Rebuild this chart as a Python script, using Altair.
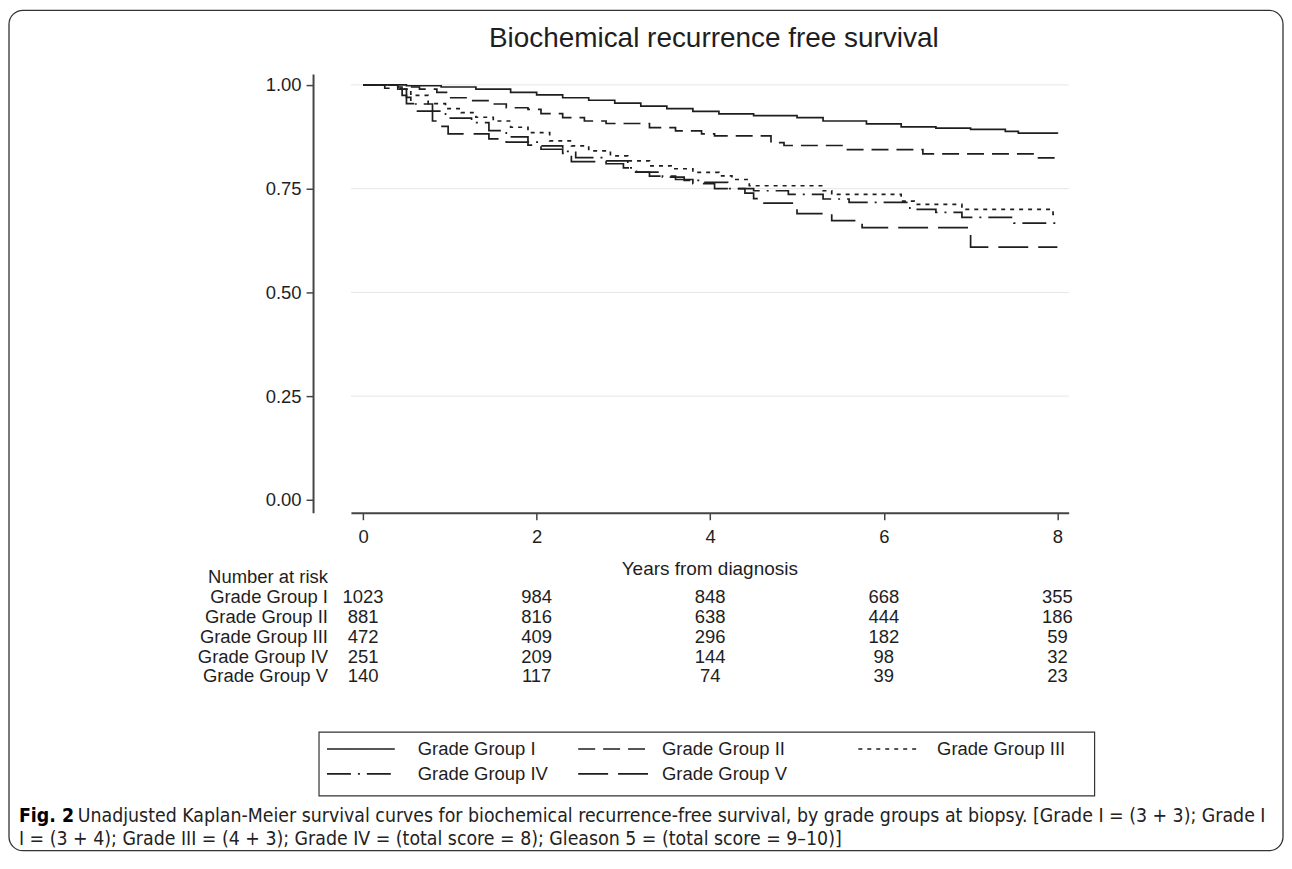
import altair as alt
import pandas as pd

# ---------------- data ----------------
groups = ["Grade Group I", "Grade Group II", "Grade Group III", "Grade Group IV", "Grade Group V"]

t_I = [0, 0.5, 0.9, 1.3, 1.7, 2.0, 2.3, 2.6, 2.9, 3.2, 3.5, 3.8, 4.1, 4.5, 5.0, 5.3, 5.8, 6.2, 6.6, 7.0, 7.4, 7.55, 8.0]
s_I = [1.0, 0.998, 0.995, 0.99, 0.982, 0.976, 0.969, 0.963, 0.956, 0.949, 0.943, 0.936, 0.930, 0.926, 0.921, 0.913, 0.906, 0.899, 0.896, 0.893, 0.888, 0.884, 0.882]

t_II = [0, 0.4, 0.65, 0.85, 1.0, 1.2, 1.45, 1.65, 1.9, 2.05, 2.3, 2.55, 2.8, 3.3, 3.6, 3.9, 4.05, 4.7, 4.85, 5.55, 6.45, 7.75, 7.98, 8.0]
s_II = [1.0, 0.995, 0.99, 0.982, 0.969, 0.962, 0.954, 0.945, 0.941, 0.931, 0.921, 0.913, 0.907, 0.897, 0.889, 0.882, 0.877, 0.861, 0.854, 0.844, 0.834, 0.824, 0.818, 0.818]

t_III = [0, 0.4, 0.55, 0.75, 0.95, 1.13, 1.3, 1.5, 1.7, 1.9, 2.15, 2.4, 2.6, 2.85, 3.05, 3.3, 3.55, 3.8, 4.1, 4.25, 4.45, 5.3, 5.4, 6.2, 6.35, 6.9, 7.95, 8.0]
s_III = [1.0, 0.99, 0.975, 0.955, 0.943, 0.933, 0.922, 0.913, 0.898, 0.885, 0.865, 0.853, 0.841, 0.829, 0.817, 0.805, 0.798, 0.789, 0.781, 0.772, 0.757, 0.745, 0.736, 0.72, 0.712, 0.70, 0.688, 0.688]

t_IV = [0, 0.4, 0.5, 0.55, 0.8, 0.95, 1.25, 1.45, 1.65, 1.9, 2.05, 2.3, 2.45, 2.8, 3.05, 3.15, 3.45, 3.7, 3.9, 4.2, 4.5, 4.9, 5.3, 5.6, 6.3, 6.6, 6.9, 7.5, 8.0]
s_IV = [1.0, 0.99, 0.97, 0.954, 0.937, 0.92, 0.909, 0.89, 0.875, 0.862, 0.853, 0.84, 0.825, 0.817, 0.80, 0.79, 0.778, 0.77, 0.765, 0.75, 0.745, 0.736, 0.725, 0.717, 0.70, 0.693, 0.681, 0.667, 0.667]

t_V = [0, 0.25, 0.45, 0.5, 0.6, 0.8, 0.9, 0.98, 1.45, 1.65, 1.9, 2.05, 2.3, 2.4, 2.8, 3.0, 3.1, 3.3, 3.6, 3.8, 4.05, 4.4, 4.5, 4.6, 5.0, 5.4, 5.75, 7.0, 8.0]
s_V = [1.0, 0.992, 0.975, 0.955, 0.937, 0.913, 0.9, 0.882, 0.87, 0.862, 0.855, 0.845, 0.835, 0.815, 0.81, 0.80, 0.79, 0.78, 0.772, 0.762, 0.75, 0.739, 0.726, 0.715, 0.69, 0.673, 0.656, 0.609, 0.609]

risk_times = [0, 2, 4, 6, 8]
risk_I = [1023, 984, 848, 668, 355]
risk_II = [881, 816, 638, 444, 186]
risk_III = [472, 409, 296, 182, 59]
risk_IV = [251, 209, 144, 98, 32]
risk_V = [140, 117, 74, 39, 23]

x_ticks = [0, 2, 4, 6, 8]
y_ticks = [0.0, 0.25, 0.5, 0.75, 1.0]
grid_vals = [0.25, 0.5, 0.75, 1.0]

title_text = "Biochemical recurrence free survival"
x_title = "Years from diagnosis"
risk_title = "Number at risk"
caption_bold = "Fig. 2"
caption_1 = ("Unadjusted Kaplan-Meier survival curves for biochemical recurrence-free survival, "
             "by grade groups at biopsy. [Grade I = (3 + 3); Grade I")
caption_2 = "I = (3 + 4); Grade III = (4 + 3); Grade IV = (total score = 8); Gleason 5 = (total score = 9\u201310)]"

# ---------------- styling / layout ----------------
OX, OY = 352, 73          # page position of plot origin


def px(v):
    return v - OX


def py(v):
    return v - OY


FONT = "Liberation Sans, Arial, Helvetica, sans-serif"
NARROW = "DejaVu Sans Condensed, Liberation Sans Narrow, sans-serif"
INK = "#1e1e1e"
AXIS = "#444444"
dashes = [[1, 0], [17, 8], [4, 5], [24, 7, 2, 7], [30, 10]]

xscale = alt.Scale(domain=[-0.14, 8.13], nice=False, zero=False)
yscale = alt.Scale(domain=[-0.031, 1.026], nice=False, zero=False)
row_scale = alt.Scale(type="point", domain=groups, range=[py(598), py(677)], padding=0)

# ---------------- tables ----------------
curve_rows = []
for g, ts, ss in zip(groups, [t_I, t_II, t_III, t_IV, t_V], [s_I, s_II, s_III, s_IV, s_V]):
    for t, s in zip(ts, ss):
        curve_rows.append({"group": g, "time": t, "surv": s})
curve_df = pd.DataFrame(curve_rows)

risk_rows = []
for g, ns in zip(groups, [risk_I, risk_II, risk_III, risk_IV, risk_V]):
    for t, n in zip(risk_times, ns):
        risk_rows.append({"group": g, "time": t, "n": n})
risk_df = pd.DataFrame(risk_rows)


def text_layer(txt, x, y, size=18.5, align="center", font=FONT, weight="normal", color=INK):
    return alt.Chart(pd.DataFrame({"t": [txt]})).mark_text(
        align=align, baseline="middle", fontSize=size, font=font, fontWeight=weight, color=color
    ).encode(text="t:N", x=alt.value(px(x)), y=alt.value(py(y)))


# ---------------- layers ----------------
frame = alt.Chart(pd.DataFrame({"k": [0]})).mark_rect(
    fillOpacity=0, stroke="#333333", strokeWidth=1.3, cornerRadius=14
).encode(x=alt.value(px(9)), x2=alt.value(px(1287)), y=alt.value(py(9)), y2=alt.value(py(852)))

grid = alt.Chart(pd.DataFrame({"g": grid_vals})).mark_rule(color="#e6e6e6", strokeWidth=1).encode(
    y=alt.Y("g:Q", scale=yscale, axis=None)
)

xaxis = alt.Axis(values=x_ticks, format="d", title=None, grid=False, domainColor=AXIS, domainWidth=2,
                 tickColor=AXIS, tickWidth=1.5, tickSize=7, labelFontSize=18.5, labelFont=FONT,
                 labelColor=INK, labelPadding=8)
yaxis = alt.Axis(values=y_ticks, format=".2f", title=None, grid=False, offset=38, domainColor=AXIS,
                 domainWidth=2, tickColor=AXIS, tickWidth=1.5, tickSize=7, labelFontSize=18.5,
                 labelFont=FONT, labelColor=INK, labelPadding=5)

curves = alt.Chart(curve_df).mark_line(interpolate="step-after", color=INK, strokeWidth=1.7).encode(
    x=alt.X("time:Q", scale=xscale, axis=xaxis),
    y=alt.Y("surv:Q", scale=yscale, axis=yaxis),
    strokeDash=alt.StrokeDash("group:N", scale=alt.Scale(domain=groups, range=dashes), legend=None),
    detail="group:N",
)

risk_numbers = alt.Chart(risk_df).mark_text(fontSize=18.5, font=FONT, color=INK, baseline="middle").encode(
    x=alt.X("time:Q", scale=xscale, axis=xaxis),
    y=alt.Y("group:N", scale=row_scale, axis=None),
    text="n:Q",
)
risk_labels = alt.Chart(pd.DataFrame({"group": groups})).mark_text(
    fontSize=18.5, font=FONT, color=INK, baseline="middle", align="right"
).encode(
    x=alt.value(px(329)),
    y=alt.Y("group:N", scale=row_scale, axis=None),
    text="group:N",
)

# legend (manual, Stata-style box)
legend_box = alt.Chart(pd.DataFrame({"k": [0]})).mark_rect(
    fill="white", stroke="#333333", strokeWidth=1.2
).encode(x=alt.value(px(320)), x2=alt.value(px(1098)), y=alt.value(py(733)), y2=alt.value(py(797)))

legend_pos = [  # (sample start, sample end, text x, row y)
    (328, 396, 419, 750),
    (580, 650, 664, 750),
    (861, 922, 940, 750),
    (328, 394, 419, 775),
    (580, 650, 664, 775),
]
legend_layers = []
for g, d, (s0, s1, tx, ry) in zip(groups, dashes, legend_pos):
    legend_layers.append(
        alt.Chart(pd.DataFrame({"group": [g]})).mark_rule(color=INK, strokeWidth=1.7, strokeDash=d).encode(
            x=alt.value(px(s0)), x2=alt.value(px(s1)), y=alt.value(py(ry))
        )
    )
    legend_layers.append(text_layer(g, tx, ry, align="left"))

layers = [
    frame,
    grid,
    curves,
    text_layer(title_text, 716, 38, size=28),
    text_layer(x_title, 712, 569, size=19),
    text_layer(risk_title, 329, 577, align="right"),
    risk_labels,
    risk_numbers,
    legend_box,
    *legend_layers,
    text_layer(caption_bold, 19, 817, size=19.4, align="left", font=NARROW, weight="bold", color="#000000"),
    text_layer(caption_1, 78, 817, size=19.4, align="left", font=NARROW, color="#222222"),
    text_layer(caption_2, 19, 840, size=19.4, align="left", font=NARROW, color="#222222"),
]

chart = (
    alt.layer(*layers)
    .resolve_scale(y="independent")
    .properties(
        width=720,
        height=440,
        autosize=alt.AutoSizeParams(type="none"),
        padding={"left": 344, "top": 65, "right": 216, "bottom": 341},
        background="white",
    )
    .configure_view(strokeWidth=0)
)

chart.save("out.html", embed_options={"renderer": "svg", "actions": False})
